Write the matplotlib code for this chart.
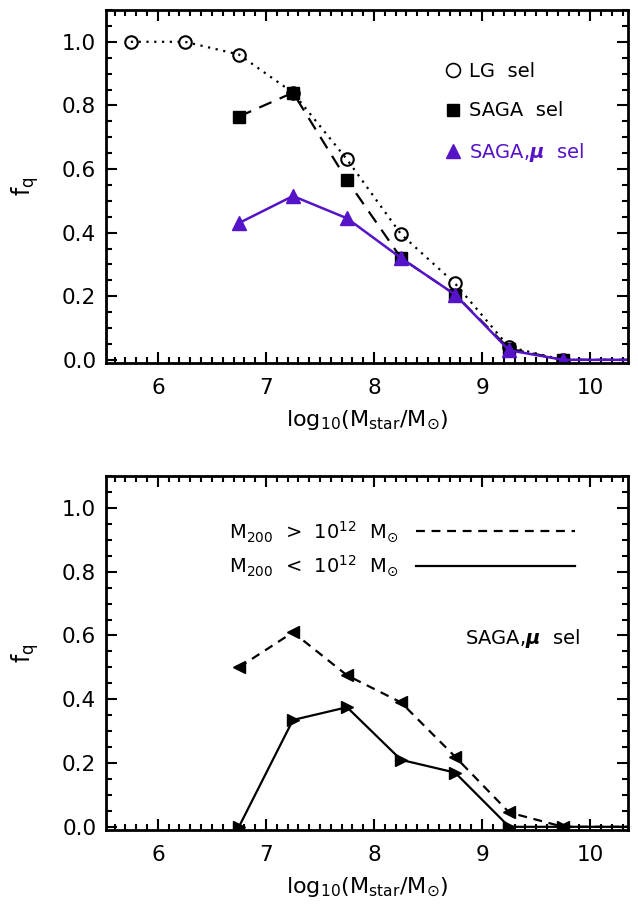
import matplotlib
matplotlib.use("Agg")
import matplotlib.pyplot as plt
from matplotlib.lines import Line2D
from matplotlib.ticker import MultipleLocator

plt.rcParams['font.family'] = ['DejaVu Sans']
plt.rcParams['mathtext.fontset'] = 'custom'
plt.rcParams['mathtext.rm'] = 'DejaVu Sans'
plt.rcParams['mathtext.it'] = 'DejaVu Sans:italic'
plt.rcParams['mathtext.bf'] = 'DejaVu Sans:bold'
plt.rcParams['mathtext.bfit'] = 'DejaVu Sans:italic:bold'

PURPLE = '#5514c8'

# ---- data (top panel) ----
x_lg = [5.75, 6.25, 6.75, 7.25, 7.75, 8.25, 8.75, 9.25, 9.75, 10.75]
fq_lg = [1.0, 1.0, 0.96, 0.84, 0.63, 0.395, 0.24, 0.04, 0.0, 0.0]

x_saga = [6.75, 7.25, 7.75, 8.25, 8.75, 9.25, 9.75, 10.75]
fq_saga = [0.765, 0.84, 0.565, 0.32, 0.205, 0.035, 0.0, 0.0]
fq_saga_mu = [0.43, 0.515, 0.445, 0.32, 0.205, 0.03, 0.0, 0.0]

# ---- data (bottom panel) ----
fq_high = [0.50, 0.61, 0.475, 0.39, 0.22, 0.045, 0.0, 0.0]
fq_low = [0.0, 0.335, 0.375, 0.21, 0.17, 0.0, 0.0, 0.0]

xticks = [6, 7, 8, 9, 10]
yticks = [0.0, 0.2, 0.4, 0.6, 0.8, 1.0]

W, H = 638, 909
fig = plt.figure(figsize=(W / 100, H / 100), dpi=100)

def frac(l, t, r, b):
    return [l / W, 1 - b / H, (r - l) / W, (b - t) / H]

ax1 = fig.add_axes(frac(106, 10, 628, 363))
ax2 = fig.add_axes(frac(106, 476, 628, 830))

xlabel = r'$\mathrm{log_{10}(M_{star}/M_{\odot})}$'

for ax in (ax1, ax2):
    ax.set_xlim(5.52, 10.35)
    ax.set_ylim(-0.01, 1.1)
    ax.set_xticks(xticks)
    ax.set_yticks(yticks)
    ax.set_yticklabels([f'{v:.1f}' for v in yticks])
    ax.xaxis.set_minor_locator(MultipleLocator(0.1))
    ax.yaxis.set_minor_locator(MultipleLocator(0.05))
    ax.tick_params(which='both', direction='in', top=True, right=True, width=1.5)
    ax.tick_params(which='major', length=8, labelsize=15.5)
    ax.tick_params(axis='x', which='major', pad=11)
    ax.tick_params(axis='y', which='major', pad=7)
    ax.tick_params(which='minor', length=4)
    for s in ax.spines.values():
        s.set_linewidth(2)
    ax.set_xlabel(xlabel, fontsize=16, labelpad=7)
    ax.set_ylabel(r'$\mathrm{f_q}$', fontsize=17, labelpad=15)

# top panel
ax1.plot(x_lg, fq_lg, linestyle=(0, (1, 2.5)), color='black', lw=1.6,
         marker='o', ms=9, mfc='none', mec='black', mew=1.5)
ax1.plot(x_saga, fq_saga, linestyle=(0, (6, 4)), color='black', lw=1.6,
         marker='s', ms=9, mfc='black', mec='black')
ax1.plot(x_saga, fq_saga_mu, linestyle='-', color=PURPLE, lw=1.8,
         marker='^', ms=10, mfc=PURPLE, mec=PURPLE)

handles1 = [
    Line2D([], [], linestyle='none', marker='o', ms=10, mfc='none', mec='black', mew=1.2),
    Line2D([], [], linestyle='none', marker='s', ms=9, mfc='black', mec='black'),
    Line2D([], [], linestyle='none', marker='^', ms=10, mfc=PURPLE, mec=PURPLE),
]
leg1 = ax1.legend(handles1, ['LG  sel', 'SAGA  sel', r'SAGA,$\mathbfit{\mu}$  sel'],
                  loc='upper left', bbox_to_anchor=(0.634, 0.875), frameon=False,
                  fontsize=14, handlelength=0.8, handletextpad=0.45, labelspacing=1.05,
                  borderaxespad=0.0)
leg1.get_texts()[2].set_color(PURPLE)

# bottom panel
ax2.plot(x_saga, fq_high, linestyle=(0, (4, 3)), color='black', lw=1.6,
         marker='<', ms=9, mfc='black', mec='black')
ax2.plot(x_saga, fq_low, linestyle='-', color='black', lw=1.6,
         marker='>', ms=9, mfc='black', mec='black')

handles2 = [
    Line2D([], [], linestyle=(0, (4, 3)), color='black', lw=1.6),
    Line2D([], [], linestyle='-', color='black', lw=1.6),
]
ax2.legend(handles2, [r'M$_{200}$  >  10$^{12}$  M$_{\odot}$', r'M$_{200}$  <  10$^{12}$  M$_{\odot}$'],
           loc='upper right', bbox_to_anchor=(0.914, 0.90), frameon=False,
           fontsize=14, markerfirst=False, handlelength=8.2, handletextpad=0.9,
           labelspacing=0.5, borderaxespad=0.0)
ax2.text(0.908, 0.54, r'SAGA,$\mathbfit{\mu}$  sel', transform=ax2.transAxes,
         ha='right', va='center', fontsize=14)

fig.savefig('out.png', dpi=100)
